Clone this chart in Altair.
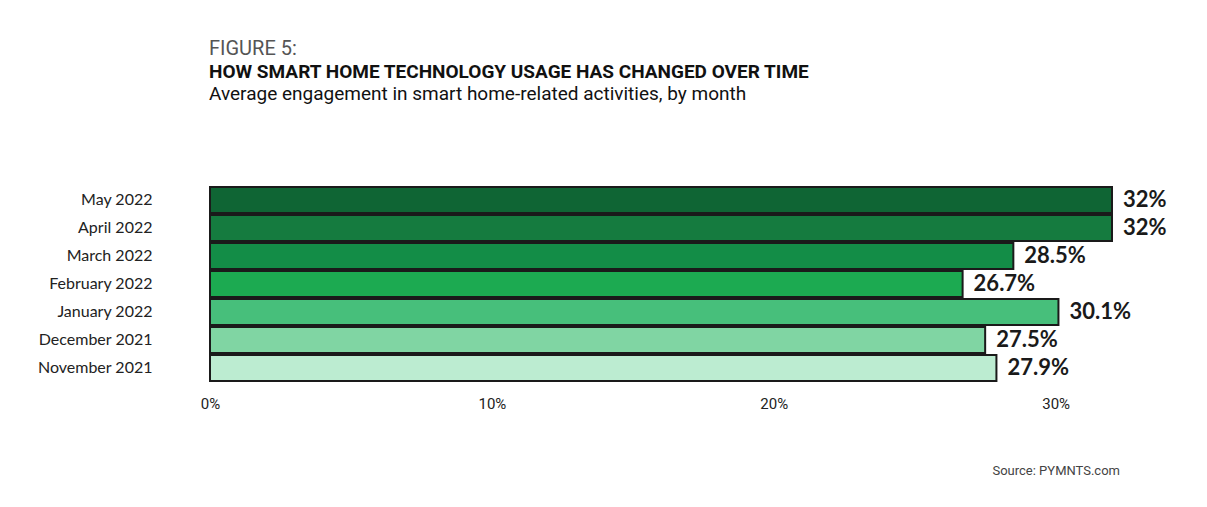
import altair as alt
import pandas as pd

months = ["May 2022", "April 2022", "March 2022", "February 2022",
          "January 2022", "December 2021", "November 2021"]
values = [32.0, 32.0, 28.5, 26.7, 30.1, 27.5, 27.9]
labels = ["32%", "32%", "28.5%", "26.7%", "30.1%", "27.5%", "27.9%"]
colors = ["#0f6534", "#157b3f", "#138d47", "#1caa51", "#47bf7b", "#80d5a3", "#bcecd1"]
x_ticks = [0, 10, 20, 30]

figure_no = "FIGURE 5:"
headline = "HOW SMART HOME TECHNOLOGY USAGE HAS CHANGED OVER TIME"
subtitle = "Average engagement in smart home-related activities, by month"
source = "Source: PYMNTS.com"

df = pd.DataFrame({"month": months, "value": values, "label": labels})

y_enc = alt.Y("month:N", sort=months,
              scale=alt.Scale(paddingInner=0.07, paddingOuter=0.035),
              axis=alt.Axis(title=None, domain=False, ticks=False, labelFont="Lato",
                            labelFontSize=16, labelColor="#222222", labelPadding=58))
x_enc = alt.X("value:Q", scale=alt.Scale(domain=[0, 32], nice=False),
              axis=alt.Axis(title=None, values=x_ticks, labelExpr="datum.value + '%'",
                            domain=False, ticks=False, grid=False, labelFont="Roboto",
                            labelFontSize=15, labelColor="#222222", labelPadding=14,
                            labelFlush=False))

bars = alt.Chart(df).mark_bar(stroke="#1a1a1a", strokeWidth=2).encode(
    x=x_enc, y=y_enc,
    color=alt.Color("month:N", sort=months,
                    scale=alt.Scale(domain=months, range=colors), legend=None),
)
text = alt.Chart(df).mark_text(align="left", baseline="middle", dx=11, font="Lato",
                               fontWeight="bold", fontSize=22, color="#1a1a1a").encode(
    x="value:Q", y=alt.Y("month:N", sort=months), text="label:N")


def note(t, x, y, size, weight="normal", color="#111111", align="left", font="Roboto"):
    return alt.Chart(pd.DataFrame({"t": [t]})).mark_text(
        align=align, baseline="alphabetic", fontSize=size, fontWeight=weight,
        color=color, font=font).encode(text="t:N", x=alt.value(x), y=alt.value(y))


chart = alt.layer(
    bars, text,
    note(figure_no, -1, -131, 20, color="#555555"),
    note(headline, -1, -108, 19, weight="bold", font="Roboto"),
    note(subtitle, -1, -86, 19),
    note(source, 910, 289, 13, color="#444444", align="right"),
).properties(
    width=902, height=196,
    autosize=alt.AutoSizeParams(type="none"),
    padding={"left": 202, "top": 178, "right": 87, "bottom": 117},
).configure_view(stroke=None)

chart.save("out.html", embed_options={"renderer": "svg", "actions": False})
